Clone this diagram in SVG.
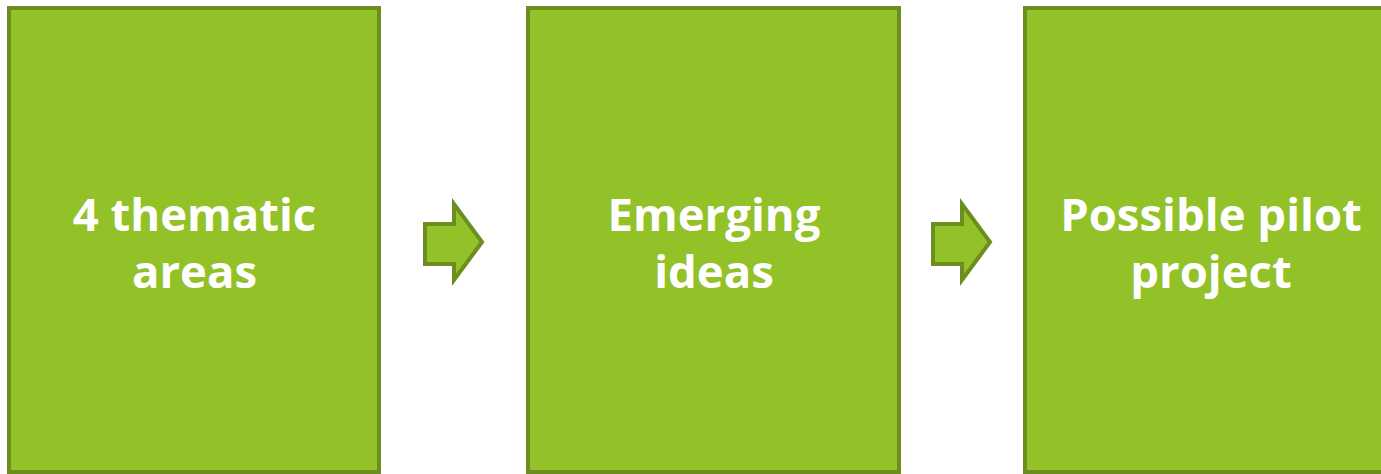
<svg xmlns="http://www.w3.org/2000/svg" width="1381" height="474" viewBox="0 0 1381 474">
<style>
.box{fill:#93C128;stroke:#6B8E1E;stroke-width:4}
.arr{fill:#93C128;stroke:#6B8E1E;stroke-width:4;stroke-linejoin:miter}
.t{font-family:"Open Sans","DejaVu Sans",sans-serif;font-weight:bold;font-size:45.5px;fill:#FFFFFF;text-anchor:middle}
</style>
<rect width="1381" height="474" fill="#FFFFFF"/>
<g id="node1">
<rect class="box" x="9" y="8" width="370" height="464"/>
<text class="t" x="194.5" y="231">4 thematic</text>
<text class="t" x="194.5" y="288">areas</text>
</g>
<g id="node2">
<rect class="box" x="528" y="8" width="371" height="464"/>
<text class="t" x="714" y="231">Emerging</text>
<text class="t" x="714" y="288">ideas</text>
</g>
<g id="node3">
<rect class="box" x="1025" y="8" width="370" height="464"/>
<text class="t" x="1211" y="231">Possible pilot</text>
<text class="t" x="1211" y="288">project</text>
</g>
<g id="connectors">
<polygon class="arr" points="425,224 454,224 454,204 482,242 454,280 454,264 425,264"/>
<polygon class="arr" points="933,224 962,224 962,204 990,242 962,280 962,264 933,264"/>
</g>
</svg>
